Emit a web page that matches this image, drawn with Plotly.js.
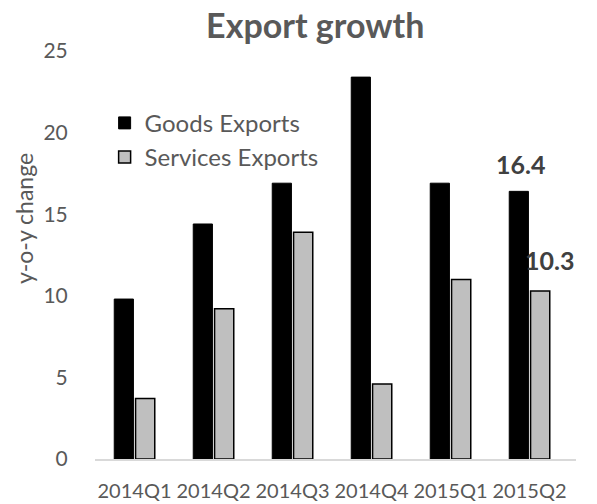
<!DOCTYPE html>
<html><head><meta charset="utf-8">
<script src="https://cdn.plot.ly/plotly-3.0.1.min.js"></script>
<style>body{margin:0;background:#fff}#c{width:597px;height:504px}</style>
</head><body><div id="c"></div>
<script>
const categories = ["2014Q1","2014Q2","2014Q3","2014Q4","2015Q1","2015Q2"];
const goodsExports = [9.8, 14.4, 16.9, 23.4, 16.9, 16.4];
const servicesExports = [3.7, 9.2, 13.9, 4.6, 11.0, 10.3];
const yTicks = [0,5,10,15,20,25];
const fontFam = "Lato, Open Sans, sans-serif";
const grey = "#595959";
const traces = [
  {type:"bar", name:"Goods Exports", x:categories, y:goodsExports,
   marker:{color:"#000000", line:{color:"#000000", width:1}}},
  {type:"bar", name:"Services Exports", x:categories, y:servicesExports,
   marker:{color:"#bfbfbf", line:{color:"#000000", width:1.5}}}
];
const last = categories.length-1;
const layout = {
  width:597, height:504,
  margin:{l:95, r:21, t:51, b:45},
  paper_bgcolor:"#fff", plot_bgcolor:"#fff",
  font:{family:fontFam, color:grey, size:21},
  title:{text:"<b>Export growth</b>", x:0.528, xanchor:"center", y:0.948, yanchor:"middle",
         font:{size:34, color:grey, family:fontFam}},
  bargap:0.46, bargroupgap:0.1,
  showlegend:true,
  legend:{x:0.02, y:0.878, xanchor:"left", yanchor:"top", font:{size:24, color:grey},
          bgcolor:"rgba(0,0,0,0)", tracegroupgap:4, itemwidth:30},
  xaxis:{type:"category", showgrid:false, zeroline:false, showline:true, linecolor:"#d9d9d9", linewidth:1.5,
         tickangle:0, ticks:"outside", ticklen:13, tickcolor:"rgba(0,0,0,0)", tickfont:{size:20, color:grey}},
  yaxis:{range:[0,25], tickvals:yTicks, showgrid:false, zeroline:false, showline:false,
         ticks:"outside", ticklen:22, tickcolor:"rgba(0,0,0,0)", tickfont:{size:21, color:grey}},
  annotations:[
    {text:"y-o-y change", xref:"paper", yref:"paper", x:-0.148, y:0.59, textangle:-90,
     showarrow:false, xanchor:"center", yanchor:"middle", font:{size:23, color:grey}},
    {text:"<b>"+goodsExports[last].toFixed(1)+"</b>", xref:"x", yref:"y", x:categories[last], y:goodsExports[last],
     xshift:-9, yshift:10, yanchor:"bottom", showarrow:false, font:{size:25, color:"#404040"}},
    {text:"<b>"+servicesExports[last].toFixed(1)+"</b>", xref:"x", yref:"y", x:categories[last], y:servicesExports[last],
     xshift:20, yshift:14, yanchor:"bottom", showarrow:false, font:{size:25, color:"#404040"}}
  ]
};
Plotly.newPlot("c", traces, layout, {displayModeBar:false, staticPlot:true});
</script></body></html>
